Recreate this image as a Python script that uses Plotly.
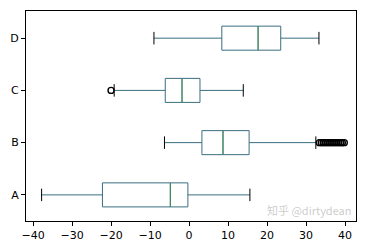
import plotly.graph_objects as go

labels = ["A", "B", "C", "D"]
lower = [-37.8, -6.3, -19.2, -9.0]
q1 = [-22.2, 3.3, -6.1, 8.4]
median = [-4.8, 8.7, -1.8, 17.7]
q3 = [-0.3, 15.4, 2.8, 23.5]
upper = [15.6, 32.5, 13.9, 33.3]
outliers = {
    "B": [33.4, 33.9, 34.4, 34.9, 35.4, 35.9, 36.4, 36.9, 37.4, 37.9, 38.4, 38.9, 39.3, 39.8],
    "C": [-20.0],
}
xticks = [-40, -30, -20, -10, 0, 10, 20, 30, 40]

box_color = "#3b6e80"
median_color = "#3f8f55"
box_w = 0.46
cap_h = 0.24

fig = go.Figure()
pos = list(range(1, len(labels) + 1))
for i, lab in enumerate(labels):
    fig.add_trace(go.Box(
        y=[pos[i]], q1=[q1[i]], median=[median[i]], q3=[q3[i]],
        lowerfence=[lower[i]], upperfence=[upper[i]],
        orientation="h", width=box_w, whiskerwidth=0,
        fillcolor="rgba(0,0,0,0)", line=dict(color=box_color, width=1),
        boxpoints=False, hoverinfo="skip", showlegend=False,
    ))
# medians
mx, my = [], []
for i in range(len(labels)):
    mx += [median[i], median[i], None]
    my += [pos[i] - box_w / 2, pos[i] + box_w / 2, None]
fig.add_trace(go.Scatter(x=mx, y=my, mode="lines", line=dict(color=median_color, width=1),
                         showlegend=False, hoverinfo="skip"))
# caps
cx, cy = [], []
for i in range(len(labels)):
    for v in (lower[i], upper[i]):
        cx += [v, v, None]
        cy += [pos[i] - cap_h / 2, pos[i] + cap_h / 2, None]
fig.add_trace(go.Scatter(x=cx, y=cy, mode="lines", line=dict(color="black", width=1),
                         showlegend=False, hoverinfo="skip"))
# fliers
fx, fy = [], []
for i, lab in enumerate(labels):
    for v in outliers.get(lab, []):
        fx.append(v)
        fy.append(pos[i])
fig.add_trace(go.Scatter(x=fx, y=fy, mode="markers",
                         marker=dict(symbol="circle-open", size=6, color="black", line=dict(width=1.4)),
                         showlegend=False, hoverinfo="skip"))

fig.add_annotation(text="知乎 @dirtydean", xref="paper", yref="paper", x=0.99, y=0.005,
                   xanchor="right", yanchor="bottom", showarrow=False,
                   font=dict(family="Noto Sans CJK SC", size=11, color="rgba(160,160,160,0.55)"))

fig.update_layout(
    width=367, height=252,
    margin=dict(l=22, r=10, t=10, b=24),
    paper_bgcolor="white", plot_bgcolor="white",
    font=dict(family="DejaVu Sans", size=11, color="black"),
)
fig.update_xaxes(range=[-41.8, 42.8], tickvals=xticks, ticktext=[("−" + str(-t)) if t < 0 else str(t) for t in xticks],
                 showgrid=False, zeroline=False, showline=True, linecolor="black", linewidth=1, mirror=True,
                 ticks="outside", ticklen=4, tickcolor="black")
fig.update_yaxes(range=[0.5, 4.52], tickvals=pos, ticktext=labels,
                 showgrid=False, zeroline=False, showline=True, linecolor="black", linewidth=1, mirror=True,
                 ticks="outside", ticklen=4, tickcolor="black")

fig.write_html("out.html")
